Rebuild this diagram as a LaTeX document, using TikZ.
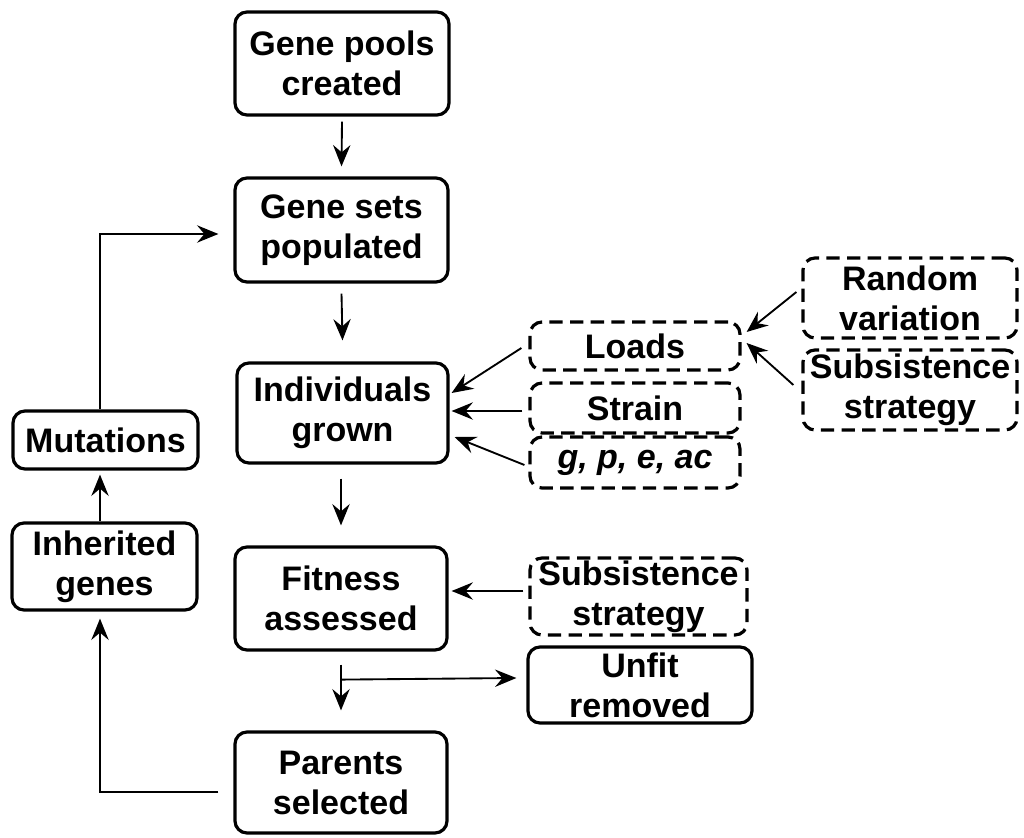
\documentclass[tikz,border=0pt]{standalone}
\usepackage{fontspec}
\setmainfont{Liberation Sans}
\usetikzlibrary{arrows.meta,calc}
\tikzset{
  box/.style 2 args={draw, line width=2.4pt, rounded corners=9pt, inner sep=0pt,
    align=center, minimum width=#1*0.75pt, minimum height=#2*0.75pt,
    font=\fontsize{25.5}{30}\selectfont\bfseries},
  dbox/.style 2 args={box={#1}{#2}, dash pattern=on 10pt off 5.5pt},
  arr/.style={line width=1.4pt, -{Stealth[length=16pt,width=13pt,inset=5.5pt]}}
}
\begin{document}
\begin{tikzpicture}[x=0.75pt,y=-0.75pt]
\useasboundingbox (0,0) rectangle (1024,838);
% main column
\node[box={214}{103}] (pools) at (342,63.5) {Gene pools\\created};
\node[box={213}{104}] (sets) at (341.5,230) {Gene sets\\populated};
\node[box={211}{100}] (ind) at (342.5,413) {Individuals\\grown};
\node[box={212}{103}] (fit) at (341,598.5) {Fitness\\assessed};
\node[box={212}{101}] (par) at (341,782.5) {Parents\\selected};
% left column
\node[box={185}{58}] (mut) at (105.5,440) {Mutations};
\node[box={185}{87}] (inh) at (104.5,566.5) {Inherited\\genes};
% right dashed boxes
\node[dbox={210}{48}] (loads) at (635,346) {Loads};
\node[dbox={210}{50}] (strain) at (635,408) {Strain};
\node[dbox={210}{51}] (gpea) at (635,462.5) {\itshape g, p, e, ac};
\node[dbox={214}{80}] (rand) at (910,298) {Random\\variation};
\node[dbox={214}{80}] (subsa) at (910,390) {Subsistence\\strategy};
\node[dbox={217}{77}] (subsb) at (638.5,596.5) {Subsistence\\strategy};
\node[box={224}{76}] (unfit) at (640,685) {Unfit\\removed};
% main flow
\draw[arr] ([shift={(0,5)}]pools.south) -- ([shift={(0,-10)}]sets.north);
\draw[arr] ([shift={(0,10)}]sets.south) -- ([shift={(0,-21)}]ind.north);
\draw[arr] ([shift={(-1.5,14)}]ind.south) -- ([shift={(0,-20)}]fit.north);
\coordinate (fs) at ([shift={(0,13)}]fit.south);
\coordinate (br) at ([shift={(0,28)}]fit.south);
\draw[arr] (fs) -- ([shift={(0,-20)}]par.north);
\draw[arr] (br) -- ([shift={(-10,-7)}]unfit.west);
% inputs to Individuals grown
\draw[arr] ([shift={(-7,2)}]loads.west) -- ([shift={(2,-20)}]ind.east);
\draw[arr] ([shift={(-6,3)}]strain.west) -- ([shift={(2,-2)}]ind.east);
\draw[arr] ([shift={(-4,2.5)}]gpea.west) -- ([shift={(5,24)}]ind.east);
% inputs to Loads
\draw[arr] ([shift={(-5,-6)}]rand.west) -- ([shift={(5,-14)}]loads.east);
\draw[arr] ([shift={(-8,-5)}]subsa.west) -- ([shift={(5,-3)}]loads.east);
% input to Fitness assessed
\draw[arr] ([shift={(-5,-5.5)}]subsb.west) -- ([shift={(3,-7.5)}]fit.east);
% feedback loop
\draw[arr] ([shift={(-15,9.5)}]par.west) -| ([shift={(-4.5,7)}]inh.south);
\draw[arr] ([shift={(-4.5,0)}]inh.north) -- ([shift={(-5.5,4)}]mut.south);
\draw[arr] ([shift={(-5.5,0)}]mut.north) |- ([shift={(-15,4)}]sets.west);
\end{tikzpicture}
\end{document}
